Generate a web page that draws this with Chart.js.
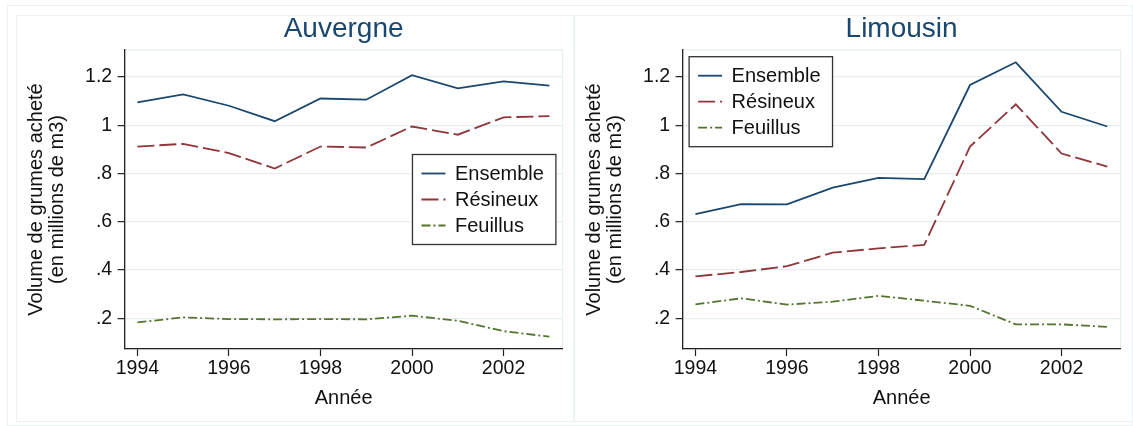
<!DOCTYPE html>
<html>
<head>
<meta charset="utf-8">
<script src="https://cdn.jsdelivr.net/npm/chart.js@4"></script>
<style>
  body { margin: 0; background: #fff; width: 1133px; height: 426px; position: relative; overflow: hidden; }
  .line { position: absolute; border: 1px solid #edf3f5; box-sizing: border-box; }
  .panel { position: absolute; top: 15px; width: 557px; height: 406px; }
</style>
</head>
<body>
<div class="line" style="left:7px;top:5px;width:1126px;height:421px"></div>
<div class="line" style="left:16px;top:15px;width:558px;height:407px"></div>
<div class="line" style="left:574px;top:15px;width:559px;height:407px"></div>
<div class="panel" style="left:16px"><canvas id="auvergne" width="557" height="406"></canvas></div>
<div class="panel" style="left:574px"><canvas id="limousin" width="557" height="406"></canvas></div>
<script>
const years = [1994, 1995, 1996, 1997, 1998, 1999, 2000, 2001, 2002, 2003];
const seriesNames = ["Ensemble", "Résineux", "Feuillus"];

const auvergneEnsemble = [1.095, 1.128, 1.081, 1.017, 1.111, 1.106, 1.208, 1.153, 1.182, 1.164];
const auvergneResineux = [0.912, 0.923, 0.885, 0.821, 0.912, 0.908, 0.995, 0.961, 1.033, 1.038];
const auvergneFeuillus = [0.183, 0.204, 0.197, 0.196, 0.197, 0.196, 0.211, 0.190, 0.147, 0.124];

const limousinEnsemble = [0.632, 0.673, 0.672, 0.742, 0.782, 0.777, 1.167, 1.261, 1.056, 0.995];
const limousinResineux = [0.374, 0.392, 0.416, 0.472, 0.490, 0.504, 0.912, 1.087, 0.883, 0.829];
const limousinFeuillus = [0.258, 0.283, 0.257, 0.269, 0.293, 0.273, 0.252, 0.175, 0.175, 0.165];

const xTicks = [1994, 1996, 1998, 2000, 2002];
const yTicks = [0.2, 0.4, 0.6, 0.8, 1, 1.2];
const yTickLabels = [".2", ".4", ".6", ".8", "1", "1.2"];

const family = '"Liberation Sans", Arial, sans-serif';
const colors = ["#1a476f", "#90353b", "#55752f"];
const dashes = [[], [17, 5], [9, 3, 2, 3]];

// faint outline of the plot region (top and right edges)
const plotOutline = {
  id: "plotOutline",
  beforeDraw(chart) {
    const { ctx, chartArea: a } = chart;
    ctx.save();
    ctx.strokeStyle = "#e6eef1";
    ctx.lineWidth = 1.3;
    ctx.strokeRect(a.left, a.top, a.right - a.left, a.bottom - a.top);
    ctx.restore();
  }
};

// Stata-like boxed legend placed inside the plot area
const boxLegend = {
  id: "boxLegend",
  afterDraw(chart, args, opts) {
    const { ctx, chartArea: a } = chart;
    const sets = chart.data.datasets;
    ctx.save();
    ctx.font = "20px " + family;
    const textW = Math.max(...sets.map(d => ctx.measureText(d.label).width));
    const w = 9 + 24 + 9.5 + textW + 12;
    const h = 90;
    const x = opts.side === "right" ? a.right - 6.7 - w : a.left + 6.5;
    const y = opts.side === "right" ? (a.top + a.bottom) / 2 - h / 2 : a.top + 6.7;
    ctx.fillStyle = "#fff";
    ctx.fillRect(x, y, w, h);
    ctx.strokeStyle = "#333";
    ctx.lineWidth = 1.3;
    ctx.strokeRect(x, y, w, h);
    sets.forEach((d, i) => {
      const cy = y + 19 + i * 26;
      ctx.strokeStyle = d.borderColor;
      ctx.lineWidth = d.borderWidth;
      ctx.setLineDash(d.borderDash);
      ctx.beginPath();
      ctx.moveTo(x + 9, cy);
      ctx.lineTo(x + 33, cy);
      ctx.stroke();
      ctx.setLineDash([]);
      ctx.fillStyle = "#111";
      ctx.textBaseline = "middle";
      ctx.fillText(d.label, x + 42.5, cy + 1);
    });
    ctx.restore();
  }
};

function makeDatasets(series) {
  return series.map((vals, i) => ({
    label: seriesNames[i],
    data: years.map((yr, j) => ({ x: yr, y: vals[j] })),
    borderColor: colors[i],
    borderWidth: 1.8,
    borderDash: dashes[i],
    pointRadius: 0,
    tension: 0,
    fill: false
  }));
}

function makeChart(id, title, series, legendSide) {
  return new Chart(document.getElementById(id), {
    type: "line",
    data: { datasets: makeDatasets(series) },
    options: {
      responsive: false,
      animation: false,
      layout: { padding: { left: 0, top: 0, right: 10.4, bottom: 0 } },
      plugins: {
        legend: { display: false },
        tooltip: { enabled: false },
        title: {
          display: true,
          text: title,
          fullSize: false,
          color: "#1a476f",
          font: { family, size: 28, weight: "normal", lineHeight: 1 },
          padding: { top: 0, bottom: 7 }
        },
        boxLegend: { side: legendSide }
      },
      scales: {
        x: {
          type: "linear",
          min: 1993.72,
          max: 2003.29,
          afterBuildTicks: s => { s.ticks = xTicks.map(v => ({ value: v })); },
          afterFit: s => { s.height = 72; },
          grid: { drawOnChartArea: false, tickLength: 7, tickColor: "#222", tickWidth: 1.2 },
          border: { color: "#222", width: 1.3 },
          ticks: {
            color: "#111",
            font: { family, size: 19.5 },
            padding: 1.3,
            maxRotation: 0,
            autoSkip: false,
            callback: v => String(v)
          },
          title: {
            display: true,
            text: "Année",
            color: "#111",
            font: { family, size: 20 },
            padding: { top: 0, bottom: 11 }
          }
        },
        y: {
          min: 0.073,
          max: 1.312,
          afterBuildTicks: s => { s.ticks = yTicks.map(v => ({ value: v })); },
          afterFit: s => { s.width = 108.6; },
          grid: { color: "#e6eef1", lineWidth: 1.3, tickLength: 7, tickColor: "#222", tickWidth: 1.2 },
          border: { color: "#222", width: 1.3 },
          ticks: {
            color: "#111",
            font: { family, size: 19.5 },
            padding: 5.4,
            callback: (v, i) => yTickLabels[i]
          },
          title: {
            display: true,
            text: ["Volume de grumes acheté", "(en millions de m3)"],
            color: "#111",
            font: { family, size: 20, lineHeight: 1.025 },
            padding: { top: 10.25, bottom: 0 }
          }
        }
      }
    },
    plugins: [plotOutline, boxLegend]
  });
}

makeChart("auvergne", "Auvergne", [auvergneEnsemble, auvergneResineux, auvergneFeuillus], "right");
makeChart("limousin", "Limousin", [limousinEnsemble, limousinResineux, limousinFeuillus], "left");
</script>
</body>
</html>
